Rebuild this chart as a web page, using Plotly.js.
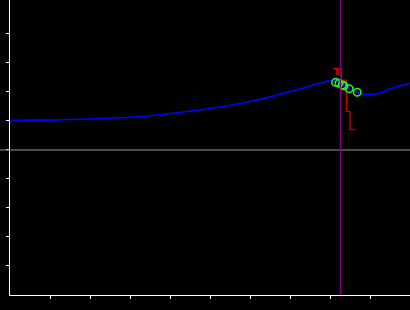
<!DOCTYPE html>
<html>
<head>
<meta charset="utf-8">
<script src="https://cdn.plot.ly/plotly-3.0.1.min.js"></script>
<style>html,body{margin:0;padding:0;background:#000;}#chart{width:410px;height:310px;}</style>
</head>
<body>
<div id="chart"></div>
<script>
// Blue smooth curve
var curveX = [0,0.5,1,1.5,2,2.5,3,3.5,4,4.5,5,5.5,6,6.5,7,7.25,7.5,7.75,8,8.15,8.3,8.5,8.75,9,9.25,9.5,9.75,10];
var curveY = [1.02,1.03,1.03,1.05,1.07,1.10,1.13,1.18,1.26,1.34,1.43,1.54,1.67,1.83,2.02,2.10,2.21,2.30,2.39,2.34,2.27,2.10,1.95,1.92,1.96,2.11,2.21,2.30];
// Green open circles
var pointX = [8.14,8.225,8.31,8.35,8.48,8.68];
var pointY = [2.33,2.30,2.24,2.21,2.11,1.99];
// Red step line
var stepX = [8.07,8.17,8.2,8.28,8.41,8.5,8.64];
var stepY = [2.80,2.59,2.80,2.41,1.32,0.71,0.71];
// Vertical marker position
var markerX = 8.26;
var xTicks = [1,2,3,4,5,6,7,8,9];
var yTicks = [-4,-3,-2,-1,0,1,2,3,4];

var traces = [
  {x: stepX, y: stepY, type:'scatter', mode:'lines', line:{shape:'hv', color:'rgb(200,0,0)', width:1.3}, hoverinfo:'skip'},
  {x: curveX, y: curveY, type:'scatter', mode:'lines', line:{shape:'spline', color:'#0000ff', width:1.6}, hoverinfo:'skip'},
  {x: pointX, y: pointY, type:'scatter', mode:'markers', marker:{symbol:'circle-open', size:7.5, color:'#22ee22', line:{width:1.6, color:'#22ee22'}}, hoverinfo:'skip'}
];
var axisCommon = {showgrid:false, zeroline:false, showline:true, linecolor:'#ffffff', linewidth:1, ticks:'outside', ticklen:3, tickwidth:1, tickcolor:'#ffffff', showticklabels:false, tickmode:'array'};
var layout = {
  width:410, height:310,
  margin:{l:10, r:0, t:0, b:15, pad:0},
  paper_bgcolor:'#000000', plot_bgcolor:'#000000',
  showlegend:false,
  xaxis: Object.assign({}, axisCommon, {range:[0,10], tickvals:xTicks}),
  yaxis: Object.assign({}, axisCommon, {range:[-5,5.17], tickvals:yTicks}),
  shapes:[
    {type:'line', xref:'paper', yref:'y', x0:-0.03, x1:1, y0:0, y1:0, line:{color:'rgb(150,150,150)', width:1}, layer:'above'},
    {type:'line', xref:'x', yref:'paper', x0:markerX, x1:markerX, y0:0, y1:1, line:{color:'#800080', width:1.3}, layer:'above'}
  ]
};
Plotly.newPlot('chart', traces, layout, {staticPlot:true, displayModeBar:false});
</script>
</body>
</html>
